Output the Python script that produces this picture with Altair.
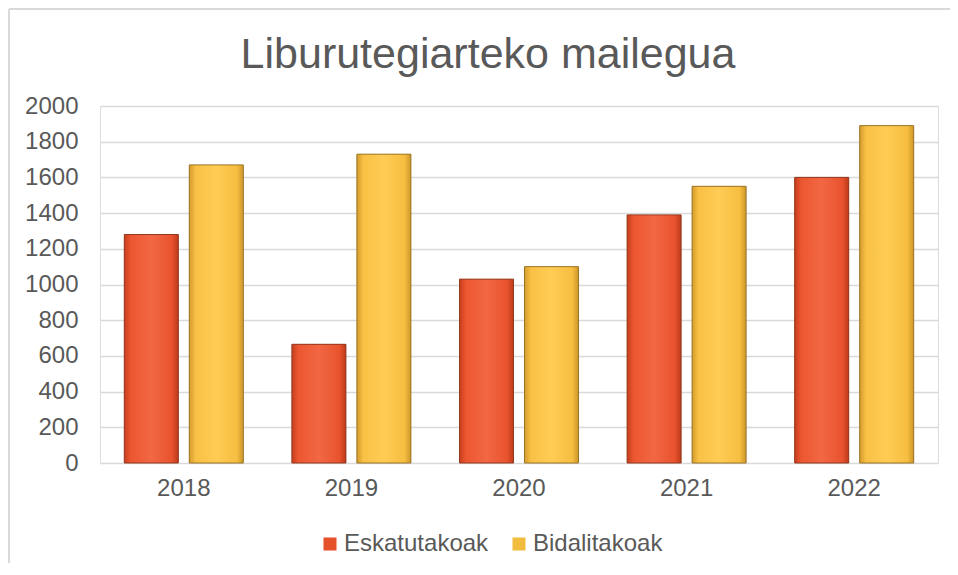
import altair as alt
import pandas as pd

years = ["2018", "2019", "2020", "2021", "2022"]
series = ["Eskatutakoak", "Bidalitakoak"]
eskatutakoak = [1280, 665, 1030, 1390, 1600]
bidalitakoak = [1670, 1730, 1100, 1550, 1890]
y_ticks = [0, 200, 400, 600, 800, 1000, 1200, 1400, 1600, 1800, 2000]

rows = []
for i, yr in enumerate(years):
    rows.append({"year": yr, "series": series[0], "value": eskatutakoak[i]})
    rows.append({"year": yr, "series": series[1], "value": bidalitakoak[i]})
df = pd.DataFrame(rows)

FONT = "Liberation Sans"
TXT = "#595959"

xenc = alt.X(
    "year:N", sort=years,
    scale=alt.Scale(paddingInner=0.29, paddingOuter=0.145),
    axis=alt.Axis(title=None, labelAngle=0, ticks=False, domain=False,
                  labelFontSize=24, labelColor=TXT, labelPadding=13, labelFont=FONT),
)
xoff = alt.XOffset("series:N", sort=series,
                   scale=alt.Scale(domain=series, paddingInner=0.169, paddingOuter=0))
yenc = alt.Y(
    "value:Q", scale=alt.Scale(domain=[0, 2000], nice=False),
    axis=alt.Axis(title=None, values=y_ticks, format="d", ticks=False, domain=False,
                  labelFontSize=24, labelColor=TXT, labelPadding=22, labelFont=FONT,
                  gridColor="#d9d9d9", gridWidth=1.3),
)

base = alt.Chart(df).mark_bar().encode(
    x=xenc, xOffset=xoff, y=yenc,
    color=alt.Color(
        "series:N",
        scale=alt.Scale(domain=series, range=["#E5512B", "#F2BC3E"]),
        legend=alt.Legend(
            title=None, orient="none", legendX=218, legendY=426,
            direction="horizontal", symbolType="square", symbolSize=170,
            symbolStrokeWidth=0, labelFontSize=24, labelColor=TXT, labelFont=FONT,
            columnPadding=18, labelOffset=2,
        ),
    ),
)

grad_esk = alt.Gradient(
    gradient="linear", x1=0, x2=1, y1=0, y2=0,
    stops=[
        alt.GradientStop(offset=0, color="#C63E1D"),
        alt.GradientStop(offset=0.12, color="#EC5731"),
        alt.GradientStop(offset=0.5, color="#F26744"),
        alt.GradientStop(offset=0.88, color="#E9532E"),
        alt.GradientStop(offset=1, color="#BE3A1B"),
    ],
)
grad_bid = alt.Gradient(
    gradient="linear", x1=0, x2=1, y1=0, y2=0,
    stops=[
        alt.GradientStop(offset=0, color="#D49C2C"),
        alt.GradientStop(offset=0.12, color="#F9C145"),
        alt.GradientStop(offset=0.5, color="#FFCC55"),
        alt.GradientStop(offset=0.88, color="#F7BE40"),
        alt.GradientStop(offset=1, color="#CC972A"),
    ],
)

esk = alt.Chart(df).transform_filter(alt.datum.series == series[0]).mark_bar(
    fill=grad_esk, stroke="#93391E", strokeWidth=1
).encode(x=xenc, xOffset=xoff, y=yenc)

bid = alt.Chart(df).transform_filter(alt.datum.series == series[1]).mark_bar(
    fill=grad_bid, stroke="#9A7428", strokeWidth=1
).encode(x=xenc, xOffset=xoff, y=yenc)

frame_df = pd.DataFrame({"a": [0]})
top_line = alt.Chart(frame_df).mark_rule(color="#d9d9d9", strokeWidth=2).encode(
    x=alt.value(-91), x2=alt.value(850), y=alt.value(-97)
)
left_line = alt.Chart(frame_df).mark_rule(color="#d9d9d9", strokeWidth=2).encode(
    x=alt.value(-91), y=alt.value(-97), y2=alt.value(470)
)

chart = alt.layer(base, esk, bid, top_line, left_line).properties(
    width=838, height=357,
    title=alt.TitleParams(
        "Liburutegiarteko mailegua", fontSize=43, color=TXT, font=FONT,
        fontWeight="normal", anchor="middle", frame="group", dx=-31, offset=-69,
    ),
    autosize=alt.AutoSizeParams(type="none"),
    padding={"left": 92, "top": 98, "right": 12, "bottom": 100},
).configure_view(stroke=None).configure(background="white")

chart.save("out.html", embed_options={"renderer": "svg", "actions": False})
